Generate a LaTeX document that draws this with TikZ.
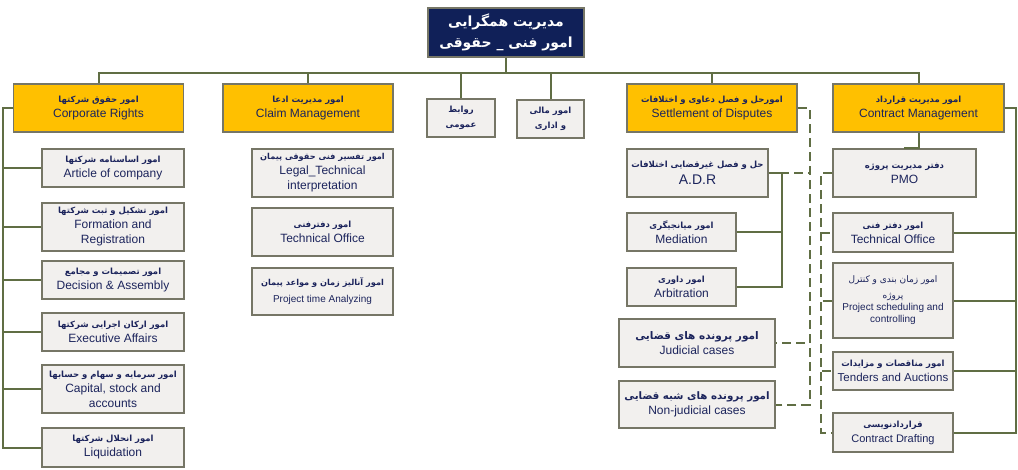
\documentclass[tikz,border=0pt]{standalone}
\usepackage{fontspec}
\setmainfont{Liberation Sans}
\newfontfamily\persianfont[Script=Arabic]{DejaVu Sans}
\TeXXeTstate=1
\usetikzlibrary{positioning}
\definecolor{navy}{RGB}{16,32,88}
\definecolor{amber}{RGB}{255,192,0}
\definecolor{paper}{RGB}{242,240,238}
\definecolor{frame}{RGB}{118,118,102}
\definecolor{olive}{RGB}{96,110,68}
\definecolor{ink}{RGB}{28,36,92}
\newcommand{\fatxt}[2][8.5]{{\persianfont\bfseries\fontsize{#1}{15}\selectfont\beginR #2\endR}}
\tikzset{
  link/.style={draw=olive,line width=2pt},
  dlink/.style={link,dash pattern=on 9pt off 5pt},
  box/.style={draw=frame,line width=1.5pt,fill=paper,text=ink,align=center,
              inner sep=1pt,font=\fontsize{12}{15}\selectfont},
  headbox/.style={box,fill=amber,minimum width=170pt,minimum height=48pt},
  subbox/.style={box,minimum width=142pt,minimum height=38pt},
  topbox/.style={box,fill=navy,text=white,minimum width=156pt,minimum height=49pt}
}

\begin{document}
\begin{tikzpicture}[x=1pt,y=-1pt]
  \useasboundingbox (0,0) rectangle (1018,469);
  % top of the chart
  \node[topbox] (top) at (506,32.5) {\fatxt[14]{مدیریت همگرایی}\\[6pt]\fatxt[14]{امور فنی \_ حقوقی}};
  \node[headbox] (corp) at (98.5,108) {\fatxt{امور حقوق شرکتها}\\Corporate Rights};
  \node[headbox] (claim) at (308,108) {\fatxt{امور مدیریت ادعا}\\Claim Management};
  \node[box,minimum width=68pt,minimum height=38pt] (pr) at (461,118) {\fatxt{روابط}\\\fatxt{عمومی}};
  \node[box,minimum width=67pt,minimum height=38pt] (fin) at (550.5,119) {\fatxt{امور مالی}\\\fatxt{و اداری}};
  \node[headbox] (settle) at (712,108) {\fatxt{امورحل و فصل دعاوی و اختلافات}\\Settlement of Disputes};
  \node[headbox,minimum width=171pt] (contract) at (918.5,108) {\fatxt{امور مدیریت قرارداد}\\Contract Management};
  % corporate rights
  \node[subbox] (artc) at (113,168) {\fatxt{امور اساسنامه شرکتها}\\Article of company};
  \node[subbox,minimum height=48pt] (form) at (113,227) {\fatxt{امور تشکیل و ثبت شرکتها}\\Formation and\\Registration};
  \node[subbox] (deci) at (113,280) {\fatxt{امور تصمیمات و مجامع}\\Decision \& Assembly};
  \node[subbox] (exec) at (113,332) {\fatxt{امور ارکان اجرایی شرکتها}\\Executive Affairs};
  \node[subbox,minimum height=48pt] (capi) at (113,389) {\fatxt{امور سرمایه و سهام و حسابها}\\Capital, stock and\\accounts};
  \node[subbox,minimum height=39pt] (liqu) at (113,447.5) {\fatxt{امور انحلال شرکتها}\\Liquidation};
  % claim management
  \node[subbox,minimum width=141pt,minimum height=48pt] (legal) at (322.5,173) {\fatxt[8.2]{امور تفسیر فنی حقوقی پیمان}\\Legal\_Technical\\interpretation};
  \node[subbox,minimum width=141pt,minimum height=48pt] (tech2) at (322.5,232) {\fatxt{امور دفترفنی}\\Technical Office};
  \node[subbox,minimum width=141pt,minimum height=47pt] (ptime) at (322.5,291.5) {\fatxt[8.2]{امور آنالیز زمان و مواعد پیمان}\\[2pt]{\fontsize{10}{12}\selectfont Project time Analyzing}};
  % settlement of disputes
  \node[subbox,minimum width=141pt,minimum height=48pt] (adr) at (697.5,173) {\fatxt{حل و فصل غیرقضایی اختلافات}\\[2pt]{\fontsize{14}{16}\selectfont A.D.R}};
  \node[subbox,minimum width=109pt] (medi) at (681.5,232) {\fatxt{امور میانجیگری}\\Mediation};
  \node[subbox,minimum width=109pt] (arbi) at (681.5,287) {\fatxt{امور داوری}\\Arbitration};
  \node[subbox,minimum width=156pt,minimum height=48pt] (judi) at (697,343) {\fatxt[10.5]{امور پرونده های قضایی}\\Judicial cases};
  \node[subbox,minimum width=156pt,minimum height=47pt] (njud) at (697,404.5) {\fatxt[10.3]{امور پرونده های شبه قضایی}\\Non-judicial cases};
  % contract management
  \node[subbox,minimum width=143pt,minimum height=48pt] (pmo) at (904.5,173) {\fatxt{دفتر مدیریت پروژه}\\PMO};
  \node[subbox,minimum width=120pt,minimum height=39pt] (tech5) at (893,232.5) {\fatxt{امور دفتر فنی}\\Technical Office};
  \node[subbox,minimum width=120pt,minimum height=75pt,font=\fontsize{10}{12}\selectfont] (sched) at (893,300.5)
    {{\persianfont\fontsize{9}{14}\selectfont\beginR امور زمان بندی و کنترل\endR}\\[4pt]{\persianfont\fontsize{9}{14}\selectfont\beginR پروژه\endR}\\Project scheduling and\\controlling};
  \node[subbox,minimum width=120pt] (tend) at (893,371) {\fatxt{امور مناقصات و مزایدات}\\{\fontsize{11.5}{13}\selectfont Tenders and Auctions}};
  \node[subbox,minimum width=120pt,minimum height=39pt] (draft) at (893,432.5) {\fatxt{قراردادنویسی}\\{\fontsize{11}{13}\selectfont Contract Drafting}};
  % connectors
  \foreach \n in {corp,claim,pr,fin,settle,contract}
    \draw[link] (top.south) -- ++(0,15) -| (\n.north);
  \foreach \n in {artc,form,deci,exec,capi,liqu}
    \draw[link] (corp.west) -- ++(-10,0) |- (\n.west);
  \foreach \n in {medi,arbi}
    \draw[link] (adr.east) -- ++(13,0) |- (\n.east);
  \foreach \n in {adr,judi,njud}
    \draw[dlink] (settle.east) -- ++(12,0) |- (\n.east);
  \draw[link] (contract.south) -- ++(0,15) -| (pmo.north);
  \foreach \n in {tech5,sched,tend,draft}
    \draw[link] (contract.east) -- ++(11,0) |- (\n.east);
  \foreach \n in {tech5,sched,tend,draft}
    \draw[dlink] (pmo.west) -- ++(-11,0) |- (\n.west);
\end{tikzpicture}
\end{document}
